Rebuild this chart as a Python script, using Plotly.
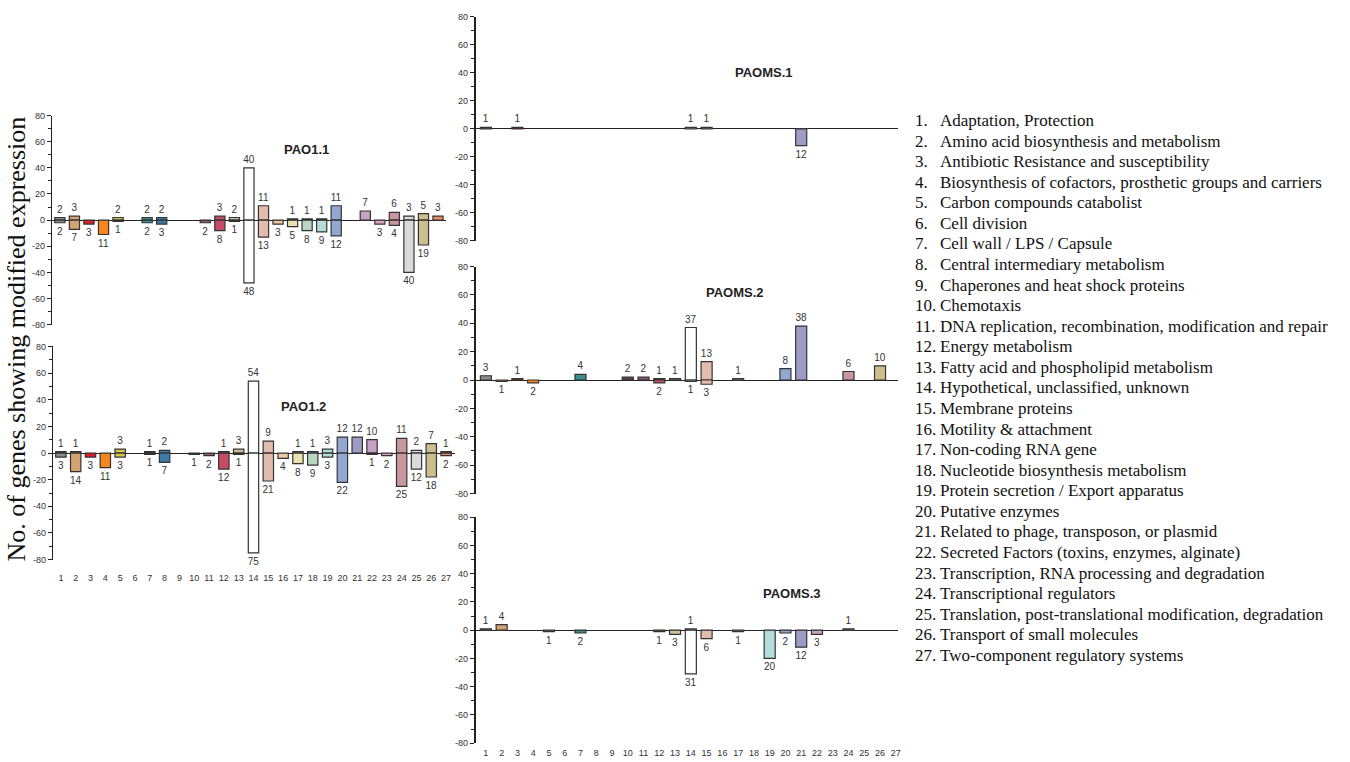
import plotly.graph_objects as go

W, H = 1350, 762

categories = list(range(1, 28))
category_names = [
    "Adaptation, Protection",
    "Amino acid biosynthesis and metabolism",
    "Antibiotic Resistance and susceptibility",
    "Biosynthesis of cofactors, prosthetic groups and carriers",
    "Carbon compounds catabolist",
    "Cell division",
    "Cell wall / LPS / Capsule",
    "Central intermediary metabolism",
    "Chaperones and heat shock proteins",
    "Chemotaxis",
    "DNA replication, recombination, modification and repair",
    "Energy metabolism",
    "Fatty acid and phospholipid metabolism",
    "Hypothetical, unclassified, unknown",
    "Membrane proteins",
    "Motility & attachment",
    "Non-coding RNA gene",
    "Nucleotide biosynthesis metabolism",
    "Protein secretion / Export apparatus",
    "Putative enzymes",
    "Related to phage, transposon, or plasmid",
    "Secreted Factors (toxins, enzymes, alginate)",
    "Transcription, RNA processing and degradation",
    "Transcriptional regulators",
    "Translation, post-translational modification, degradation",
    "Transport of small molecules",
    "Two-component regulatory systems",
]
category_colors = [
    "#8C8C8C", "#D4A373", "#E41E26", "#F7861E", "#D8C84A", "#6E8B3D",
    "#3C8C8E", "#3B7DA6", "#B0B0B0", "#5A3A55", "#8E5478", "#C94A63",
    "#D2C09A", "#FFFFFF", "#E3BCAE", "#EEC9A0", "#EAE2AE", "#B9D7C0",
    "#B2DDDB", "#91A9D2", "#9C9CC6", "#C7A2C6", "#DFA5BB", "#C9979E",
    "#DADADA", "#CDBE8E", "#F58A6A",
]

# up-regulated / down-regulated gene counts per category (1..27)
pao11_up   = [2, 3, 0, 0, 2, 0, 2, 2, 0, 0, 0, 3, 2, 40, 11, 0, 1, 1, 1, 11, 0, 7, 0, 6, 3, 5, 3]
pao11_down = [2, 7, 3, 11, 1, 0, 2, 3, 0, 0, 2, 8, 1, 48, 13, 3, 5, 8, 9, 12, 0, 0, 3, 4, 40, 19, 0]
pao12_up   = [1, 1, 0, 0, 3, 0, 1, 2, 0, 0, 0, 1, 3, 54, 9, 0, 1, 1, 3, 12, 12, 10, 0, 11, 2, 7, 1]
pao12_down = [3, 14, 3, 11, 3, 0, 1, 7, 0, 1, 2, 12, 1, 75, 21, 4, 8, 9, 3, 22, 0, 1, 2, 25, 12, 18, 2]
paoms1_up   = [1, 0, 1, 0, 0, 0, 0, 0, 0, 0, 0, 0, 0, 1, 1, 0, 0, 0, 0, 0, 0, 0, 0, 0, 0, 0, 0]
paoms1_down = [0, 0, 0, 0, 0, 0, 0, 0, 0, 0, 0, 0, 0, 0, 0, 0, 0, 0, 0, 0, 12, 0, 0, 0, 0, 0, 0]
paoms2_up   = [3, 0, 1, 0, 0, 0, 4, 0, 0, 2, 2, 1, 1, 37, 13, 0, 1, 0, 0, 8, 38, 0, 0, 6, 0, 10, 0]
paoms2_down = [0, 1, 0, 2, 0, 0, 0, 0, 0, 0, 0, 2, 0, 1, 3, 0, 0, 0, 0, 0, 0, 0, 0, 0, 0, 0, 0]
paoms3_up   = [1, 4, 0, 0, 0, 0, 0, 0, 0, 0, 0, 0, 0, 1, 0, 0, 0, 0, 0, 0, 0, 0, 0, 1, 0, 0, 0]
paoms3_down = [0, 0, 0, 0, 1, 0, 2, 0, 0, 0, 0, 1, 3, 31, 6, 0, 1, 0, 20, 2, 12, 3, 0, 0, 0, 0, 0]

y_tick_vals = [-80, -60, -40, -20, 0, 20, 40, 60, 80]
y_tick_labels = ["-80", "-60", "-40", "-20", "0", "20", "40", "60", "80"]

def px(x):
    return x / W

def py(y):
    return 1 - y / H

# panel geometry: (title, up, down, xdom px, ydom px (top,bottom), xrange, show xlabels, xtick pad, axis width, title pos)
panels = [
    ("PAO1.1", pao11_up, pao11_down, (52, 447), (112, 324), (0.45, 27.55), False, 0, 1.3, (307, 146)),
    ("PAO1.2", pao12_up, pao12_down, (53, 456), (346, 562), (0.46, 27.6), True, 10, 1.3, (304, 407)),
    ("PAOMS.1", paoms1_up, paoms1_down, (477, 900), (12, 239), (0.37, 27.14), False, 0, 2, (766, 68)),
    ("PAOMS.2", paoms2_up, paoms2_down, (477, 900), (265, 495), (0.37, 27.14), False, 0, 2, (737, 291)),
    ("PAOMS.3", paoms3_up, paoms3_down, (477, 900), (519, 748), (0.37, 27.14), True, 1, 2, (794, 596)),
]

fig = go.Figure()
layout = {}
annotations = []

for i, (title, up, down, xd, yd, xr, showx, pad, aw, tpos) in enumerate(panels):
    k = "" if i == 0 else str(i + 1)
    xa, ya = "x" + k, "y" + k
    for vals, sign in ((up, 1), (down, -1)):
        yv = [sign * v if v else None for v in vals]
        tv = [str(v) if v else "" for v in vals]
        fig.add_trace(go.Bar(
            x=categories, y=yv, text=tv, textposition="outside",
            textfont=dict(family="Liberation Sans, Arial", size=10, color="#333333"),
            marker=dict(color=category_colors, line=dict(color="#333333", width=1.2)),
            width=0.7, xaxis=xa, yaxis=ya, cliponaxis=False,
            constraintext="none", showlegend=False, hoverinfo="x+y",
        ))
    layout["xaxis" + k] = dict(
        domain=[px(xd[0]), px(xd[1])], range=list(xr), anchor=ya,
        showline=False, showgrid=False, zeroline=False,
        tickmode="array", tickvals=categories, ticktext=[str(c) for c in categories],
        showticklabels=showx, ticks="outside" if showx else "",
        ticklen=pad, tickcolor="rgba(0,0,0,0)",
        tickfont=dict(family="Liberation Sans, Arial", size=9, color="#333333"),
        fixedrange=True,
    )
    layout["yaxis" + k] = dict(
        domain=[py(yd[1]), py(yd[0])], range=[-80, 80], anchor=xa,
        showline=True, linecolor="#222222", linewidth=aw,
        showgrid=False, zeroline=True, zerolinecolor="#222222", zerolinewidth=1.3,
        tickmode="array", tickvals=y_tick_vals, ticktext=y_tick_labels,
        ticks="outside", ticklen=4, tickwidth=1, tickcolor="#222222",
        minor=dict(tickmode="linear", tick0=0, dtick=10, ticks="outside", ticklen=2.5, tickcolor="#222222"),
        tickfont=dict(family="Liberation Sans, Arial", size=9, color="#333333"),
        fixedrange=True,
    )
    annotations.append(dict(
        x=px(tpos[0]), y=py(tpos[1]), xref="paper", yref="paper",
        text="<b>" + title + "</b>", showarrow=False, xanchor="center", yanchor="middle",
        font=dict(family="Liberation Sans, Arial", size=13, color="#222222"),
    ))

# y-axis title
annotations.append(dict(
    x=px(17), y=py(338), xref="paper", yref="paper",
    text="No. of genes showing modified expression", textangle=-90,
    showarrow=False, xanchor="center", yanchor="middle",
    font=dict(family="Liberation Serif, Times New Roman", size=26, color="#111111"),
))

# category key
for i, name in enumerate(category_names):
    yy = 117 + i * 20.85
    annotations.append(dict(
        x=px(915), y=py(yy), xref="paper", yref="paper", text=f"{i + 1}.",
        showarrow=False, xanchor="left", yanchor="middle",
        font=dict(family="Liberation Serif, Times New Roman", size=17, color="#111111"),
    ))
    annotations.append(dict(
        x=px(940), y=py(yy), xref="paper", yref="paper", text=name,
        showarrow=False, xanchor="left", yanchor="middle",
        font=dict(family="Liberation Serif, Times New Roman", size=17, color="#111111"),
    ))

fig.update_layout(
    width=W, height=H, margin=dict(l=0, r=0, t=0, b=0),
    paper_bgcolor="white", plot_bgcolor="white",
    barmode="overlay", annotations=annotations, **layout,
)

fig.write_html(
    "out.html",
    config={"displayModeBar": False},
    post_script="document.body.style.margin='0';document.body.style.overflow='hidden';",
)
